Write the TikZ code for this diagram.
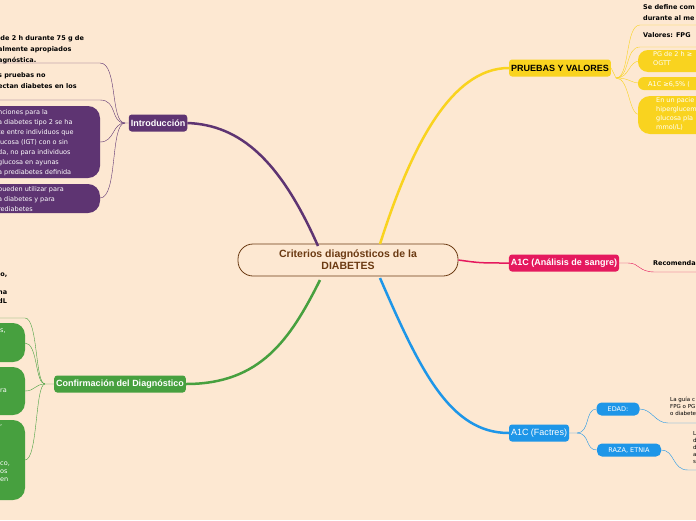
\documentclass[tikz,border=0pt]{standalone}
\usepackage{fontspec}
\setmainfont{DejaVu Sans}
\newfontfamily\headfont{Liberation Sans}
\usetikzlibrary{positioning}
\definecolor{bgcol}{HTML}{FDE8D2}
\definecolor{introcol}{HTML}{5E3472}
\definecolor{pruebacol}{HTML}{F9D31F}
\definecolor{analcol}{HTML}{E5195E}
\definecolor{factcol}{HTML}{1E96E8}
\definecolor{confcol}{HTML}{47A03F}
\definecolor{centcol}{HTML}{6B3A12}
\begin{document}
\begin{tikzpicture}[x=1pt,y=-1pt]
\tikzstyle{topic}=[rounded corners=3pt,inner sep=2pt,minimum height=17pt,font=\headfont\bfseries\fontsize{9}{10}\selectfont]
\tikzstyle{sub}=[rounded corners=5pt,inner sep=2pt,minimum height=13pt,font=\fontsize{6.5}{8}\selectfont,text=white]
\tikzstyle{leaf}=[anchor=north west,inner sep=0pt,align=left,font=\bfseries\fontsize{6.5}{11}\selectfont]
\tikzstyle{bubble}=[rounded corners=12pt,inner sep=0pt,align=left,text=white,font=\fontsize{6.5}{10}\selectfont]
\fill[bgcol] (0,0) rectangle (696,520);
\useasboundingbox (0,0) rectangle (696,520);
\clip (0,0) rectangle (696,520);

% centre
\node[draw=centcol,thick,fill=bgcol,rounded corners=15pt,minimum width=220pt,minimum height=32pt,align=center,text=centcol,font=\headfont\bfseries\fontsize{10.5}{12}\selectfont] (C) at (348,260) {Criterios diagnósticos de la\\DIABETES};

% Introduccion
\node[topic,fill=introcol,text=white] (I) at (158,123) {Introducción};
\draw[introcol,line width=2.5pt] (318,246) .. controls (280,160) and (240,125) .. (I.east);
\node[leaf] (I1) at (-2,35) {\ de 2 h durante 75 g de\\almente apropiados\\agnóstica.};
\node[leaf] (I2) at (-2,72) {s pruebas no\\ectan diabetes en los};
\fill[introcol,rounded corners=12pt] (-20,106) rectangle (100,178);
\node[bubble,anchor=north west] (I3) at (-2,109) {nciones para la\\a diabetes tipo 2  se ha\\te entre individuos que\\lucosa (IGT) con o sin\\da, no para individuos\\ glucosa en ayunas\\a prediabetes definida};
\fill[introcol,rounded corners=12pt] (-20,184) rectangle (100,213);
\node[bubble,anchor=north west] (I4) at (-2,186) {pueden utilizar para\\a diabetes y para\\rediabetes};
\coordinate (Ij) at (125,123);
\draw[introcol,thin] (0,63) -- (100,63) .. controls (118,63) and (110,123) .. (Ij) -- (I.west);
\draw[introcol,thin] (0,100) -- (100,100) .. controls (118,100) and (110,123) .. (Ij);
\draw[introcol,thin] (100,142) .. controls (115,142) and (112,123) .. (Ij);
\draw[introcol,thin] (100,198) .. controls (118,198) and (110,123) .. (Ij);

% Pruebas y valores
\node[topic,fill=pruebacol,text=black] (P) at (560,68) {PRUEBAS Y VALORES};
\draw[pruebacol,line width=2.5pt] (380,244) .. controls (410,150) and (450,68) .. (P.west);
\node[leaf] (P1) at (643,4) {Se define com\\durante al me};
\node[leaf] (P2) at (643,32) {Valores: FPG};
\fill[pruebacol,rounded corners=10pt] (638,50) rectangle (710,72);
\node[bubble,anchor=north west,font=\fontsize{6.5}{9}\selectfont] (P3) at (653,51) {PG de 2 h ≥\\OGTT};
\fill[pruebacol,rounded corners=6pt] (638,77) rectangle (710,90);
\node[bubble,anchor=west] (P4) at (648,84) {A1C ≥6,5\% (};
\fill[pruebacol,rounded corners=12pt] (638,96) rectangle (710,134);
\node[bubble,anchor=north west,font=\fontsize{6.5}{9}\selectfont] (P5) at (656,97) {En un pacie\\hiperglucem\\glucosa pla\\mmol/L)};
\coordinate (Pj) at (616,78);
\draw[pruebacol,thin] (P.east) -- (Pj) .. controls (630,78) and (625,25) .. (640,25) -- (696,25);
\draw[pruebacol,thin] (Pj) .. controls (630,78) and (625,47) .. (640,47) -- (696,47);
\draw[pruebacol,thin] (Pj) .. controls (630,78) and (628,61) .. (640,61);
\draw[pruebacol,thin] (Pj) .. controls (630,78) and (630,83) .. (640,83);
\draw[pruebacol,thin] (Pj) .. controls (630,78) and (628,115) .. (640,115);

% A1C analisis
\node[topic,fill=analcol,text=white] (A) at (564,263) {A1C (Análisis de sangre)};
\draw[analcol,line width=1.5pt] (C.east) .. controls (480,263) .. (A.west);
\node[leaf] (A1) at (653,260) {Recomenda};
\draw[analcol,thin] (A.east) -- (628,263) .. controls (640,263) and (638,272) .. (655,272) -- (696,272);

% A1C factores
\node[topic,fill=factcol,text=white,font=\headfont\fontsize{9}{10}\selectfont] (F) at (539,433) {A1C (Factres)};
\draw[factcol,line width=2.5pt] (380,278) .. controls (420,370) and (450,433) .. (F.west);
\node[sub,fill=factcol,minimum width=43pt] (E) at (618,409) {EDAD:};
\node[sub,fill=factcol,minimum width=64pt] (R) at (629,450) {RAZA, ETNIA};
\draw[factcol,thin] (F.east) -- (577,433) .. controls (590,433) and (585,409) .. (E.west);
\draw[factcol,thin] (577,433) .. controls (590,433) and (585,450) .. (R.west);
\node[leaf,font=\fontsize{5.5}{7}\selectfont] (E1) at (670,397) {La guía c\\FPG o PG\\o diabete};
\node[leaf,font=\fontsize{5.5}{7}\selectfont] (R1) at (693,431) {L\\d\\d\\a\\s};
\draw[factcol,thin] (E.east) .. controls (652,409) and (655,423) .. (668,423) -- (696,423);
\draw[factcol,thin] (R.east) .. controls (675,450) and (672,470) .. (688,470) -- (696,470);

% Confirmacion
\node[topic,fill=confcol,text=white] (D) at (120,384) {Confirmación del Diagnóstico};
\draw[confcol,line width=2.5pt] (320,280) .. controls (290,340) and (260,384) .. (D.east);
\node[leaf,font=\bfseries\fontsize{6.5}{9}\selectfont] (D1) at (-2,271) {lo,\\[9pt]na\\dL};
\fill[confcol,rounded corners=12pt] (-20,323) rectangle (25,362);
\node[bubble,anchor=west] (D3) at (0,331) {s,};
\fill[confcol,rounded corners=12pt] (-20,367) rectangle (25,415);
\node[bubble,anchor=west] (D4) at (0,391) {ra};
\fill[confcol,rounded corners=12pt] (-20,420) rectangle (25,500);
\node[bubble,anchor=north west,font=\fontsize{6.5}{8}\selectfont] (D5) at (0,424) {,\\ \\ \\ \\ \\co,\\os\\en};
\coordinate (Dj) at (45,384);
\draw[confcol,thin] (D.west) -- (Dj) .. controls (35,384) and (38,318) .. (25,318) -- (0,318);
\draw[confcol,thin] (Dj) .. controls (35,384) and (38,343) .. (25,343);
\draw[confcol,thin] (Dj) .. controls (35,384) and (35,391) .. (25,391);
\draw[confcol,thin] (Dj) .. controls (35,384) and (38,460) .. (25,460);
\end{tikzpicture}
\end{document}
